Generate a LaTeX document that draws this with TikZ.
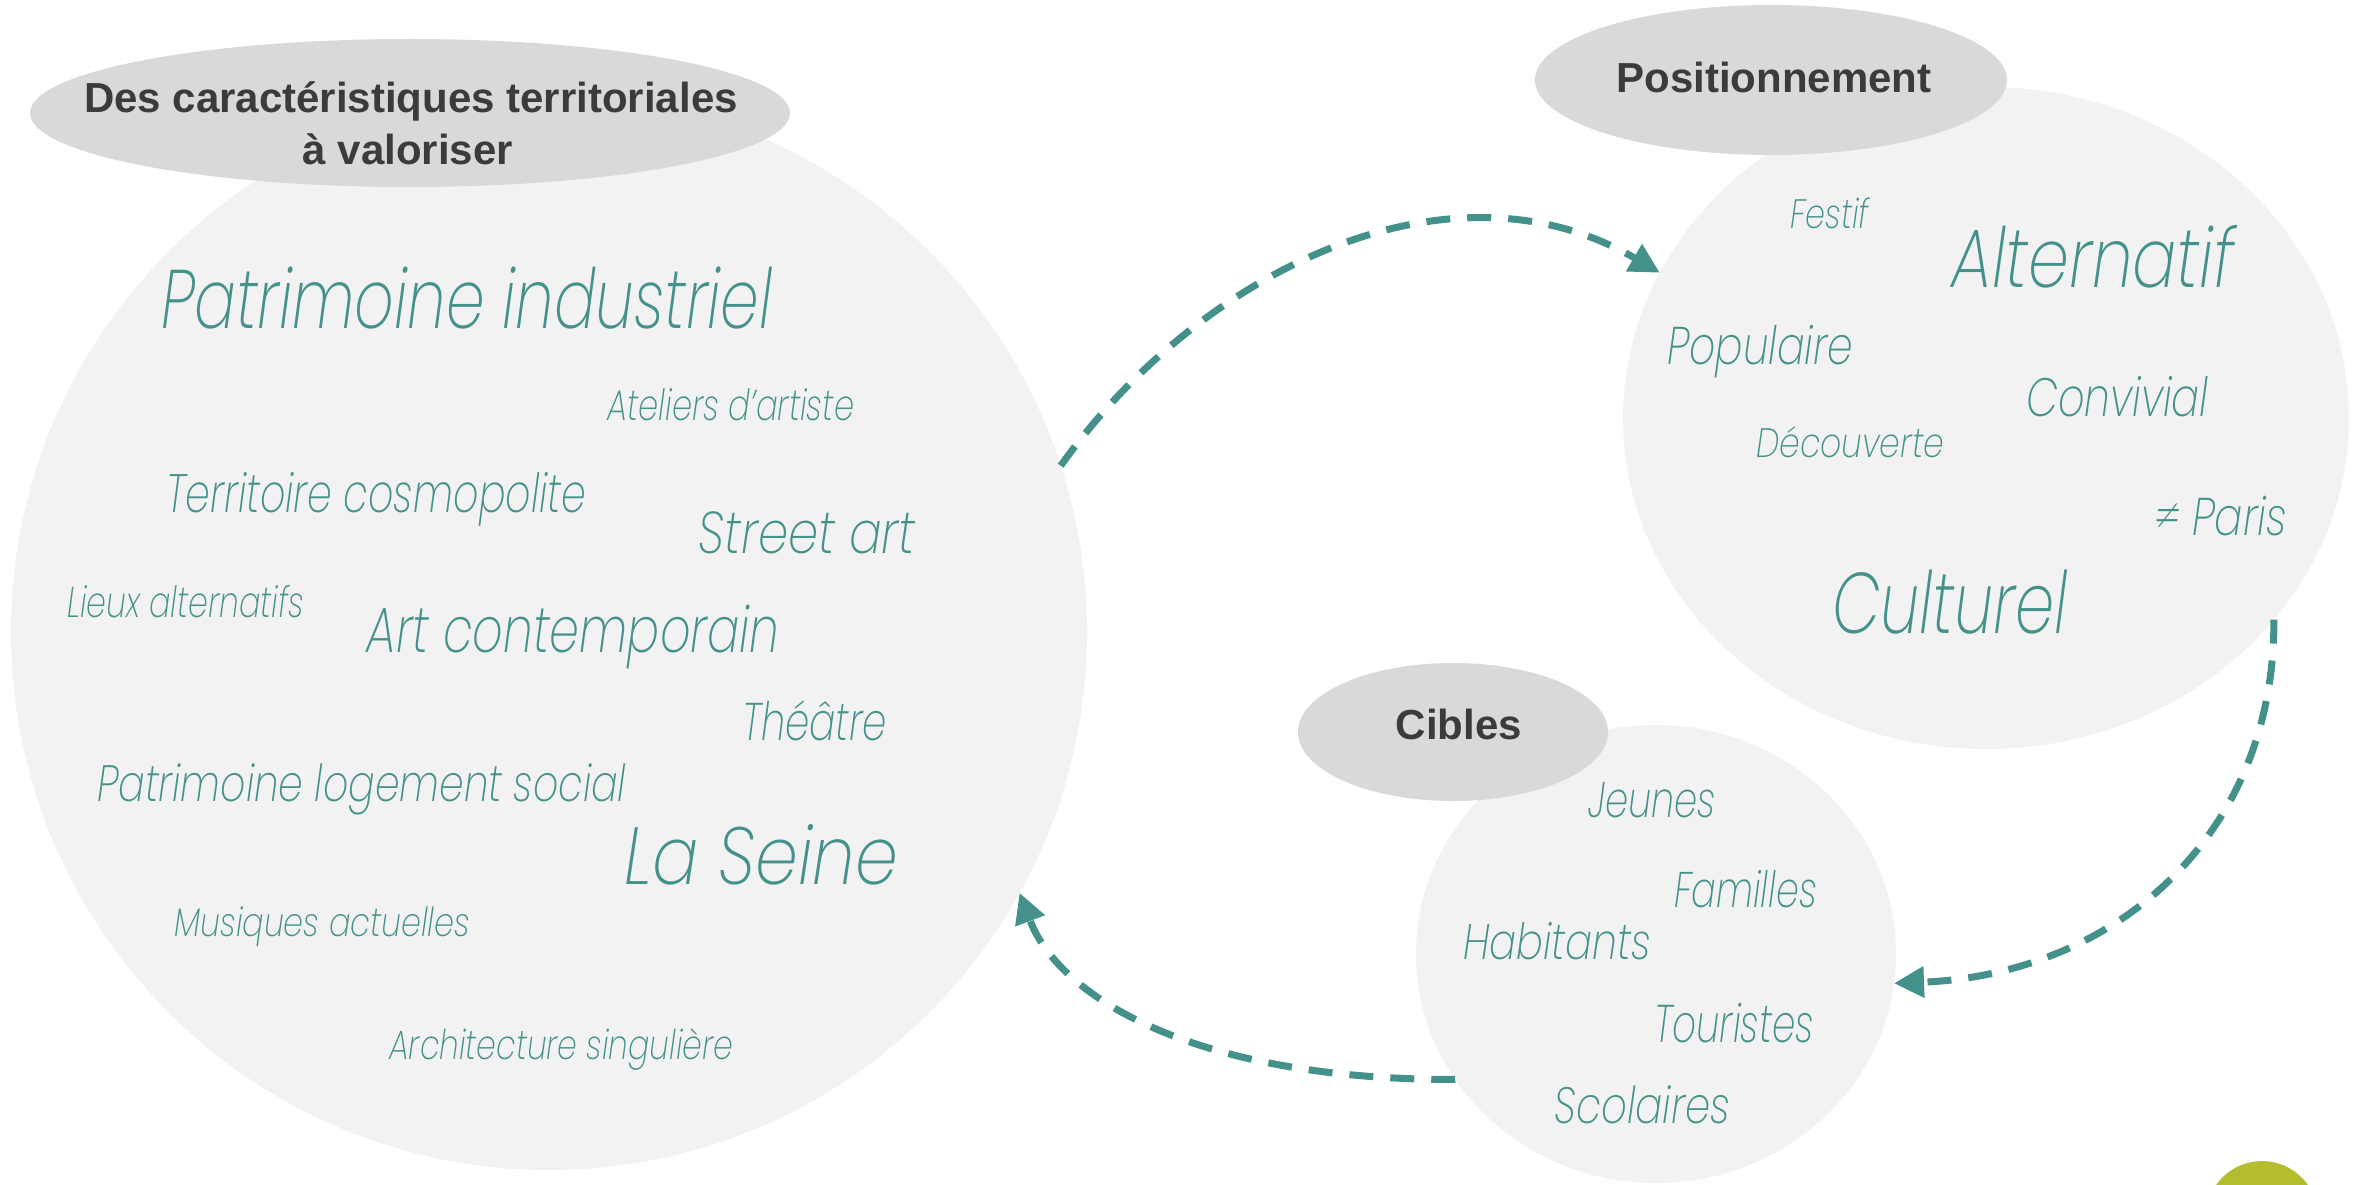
\documentclass[tikz,border=0pt]{standalone}
\usepackage{fontspec}
\usepackage{graphicx}
\usetikzlibrary{shapes.geometric,arrows.meta}
\IfFontExistsTF{Poppins ExtraLight Italic}{\newfontfamily\kwfont{Poppins ExtraLight Italic}}{%
  \IfFontExistsTF{Poppins Light Italic}{\newfontfamily\kwfont{Poppins Light Italic}}{%
    \newfontfamily\kwfont{Poppins}[FakeSlant=0.2]}}
\newfontfamily\hdfont{Liberation Sans}
\newfontfamily\symbfont{DejaVu Sans}
\definecolor{kteal}{RGB}{68,145,139}
\definecolor{cfill}{RGB}{242,242,242}
\definecolor{lfill}{RGB}{217,217,217}
\definecolor{hdgray}{RGB}{59,59,59}
\definecolor{cgreen}{RGB}{180,189,47}
\newcommand\kw[3]{\resizebox{#2pt}{\height}{\fontsize{#1pt}{#1pt}\selectfont\kwfont #3}}
\newcommand\neqsign{\iffontchar\font"2260 ≠\else{\symbfont ≠}\fi}
\tikzset{
  disc/.style={ellipse, fill=cfill, draw=none, inner sep=0pt, outer sep=0pt},
  lab/.style={ellipse, fill=lfill, draw=none, inner sep=0pt, outer sep=0pt},
  hd/.style={inner sep=0pt, anchor=base, text=hdgray, font=\hdfont\bfseries\fontsize{42pt}{42pt}\selectfont},
  kwn/.style={inner sep=0pt, anchor=base west, text=kteal},
  flow/.style={draw=kteal, line width=7pt, dash pattern=on 24pt off 17pt, -{Triangle[length=30pt,width=30pt]}}
}
\begin{document}
\begin{tikzpicture}[x=1pt,y=-1pt]
\useasboundingbox (0,0) rectangle (2359,1185);
\fill[white] (0,0) rectangle (2359,1185);
% discs
\node[disc, minimum width=1076pt, minimum height=1076pt] (terr) at (549,632) {};
\node[disc, minimum width=726pt, minimum height=662pt] (pos) at (1986,418) {};
\node[disc, minimum width=480pt, minimum height=458pt] (cib) at (1656,954) {};
% label ellipses
\node[lab, minimum width=760pt, minimum height=148pt] (terrlab) at (410,113) {};
\node[lab, minimum width=472pt, minimum height=150pt] (poslab) at (1771,80) {};
\node[lab, minimum width=310pt, minimum height=138pt] (ciblab) at (1453,732) {};
\begin{scope}
\clip (0,0) rectangle (2359,1185);
\node[disc, fill=cgreen, minimum width=112pt, minimum height=112pt] (dot) at (2262,1217) {};
\end{scope}
% headings
\node[hd] (h1a) at (411,113) {Des caractéristiques territoriales};
\node[hd] (h1b) at (408,165) {à valoriser};
\node[hd] (h2) at (1774,93) {Positionnement};
\node[hd] (h3) at (1459,739) {Cibles};
% left words
\node[kwn] (w1) at (161,328) {\kw{83}{611}{Patrimoine industriel}};
\node[kwn] (w2) at (607,420) {\kw{43}{247}{Ateliers d’artiste}};
\node[kwn] (w3) at (166,512) {\kw{54}{420}{Territoire cosmopolite}};
\node[kwn] (w4) at (698,553) {\kw{59}{217}{Street art}};
\node[kwn] (w5) at (67,617) {\kw{43}{237}{Lieux alternatifs}};
\node[kwn] (w6) at (366,652) {\kw{64}{413}{Art contemporain}};
\node[kwn] (w7) at (742,740) {\kw{53}{145}{Théâtre}};
\node[kwn] (w8) at (97,801) {\kw{51}{529}{Patrimoine logement social}};
\node[kwn] (w9) at (624,884) {\kw{81}{274}{La Seine}};
\node[kwn] (w10) at (174,936) {\kw{40}{296}{Musiques actuelles}};
\node[kwn] (w11) at (389,1059) {\kw{41}{344}{Architecture singulière}};
% right words
\node[kwn] (p1) at (1790,229) {\kw{41}{79}{Festif}};
\node[kwn] (p2) at (1951,287) {\kw{83}{283}{Alternatif}};
\node[kwn] (p3) at (1667,364) {\kw{53}{186}{Populaire}};
\node[kwn] (p4) at (2026,416) {\kw{54}{182}{Convivial}};
\node[kwn] (p5) at (1756,457) {\kw{41}{188}{Découverte}};
\node[kwn] (p6) at (2154,535) {\kw{53}{133}{\neqsign{} Paris}};
\node[kwn] (p7) at (1832,633) {\kw{86}{235}{Culturel}};
% targets
\node[kwn] (c1) at (1588,817) {\kw{50}{128}{Jeunes}};
\node[kwn] (c2) at (1674,907) {\kw{50}{143}{Familles}};
\node[kwn] (c3) at (1463,959) {\kw{50}{188}{Habitants}};
\node[kwn] (c4) at (1654,1042) {\kw{53}{160}{Touristes}};
\node[kwn] (c5) at (1554,1123) {\kw{51}{176}{Scolaires}};
% connectors
\draw[flow] (terr.18.5) .. controls (1200,270) and (1450,150) .. (pos.156.7);
\draw[flow] (pos.-35) .. controls (2275,840) and (2110,975) .. (cib.-7.2);
\draw[flow] (cib.-148) .. controls (1200,1080) and (1060,1000) .. (terr.-29.85);
\end{tikzpicture}
\end{document}
